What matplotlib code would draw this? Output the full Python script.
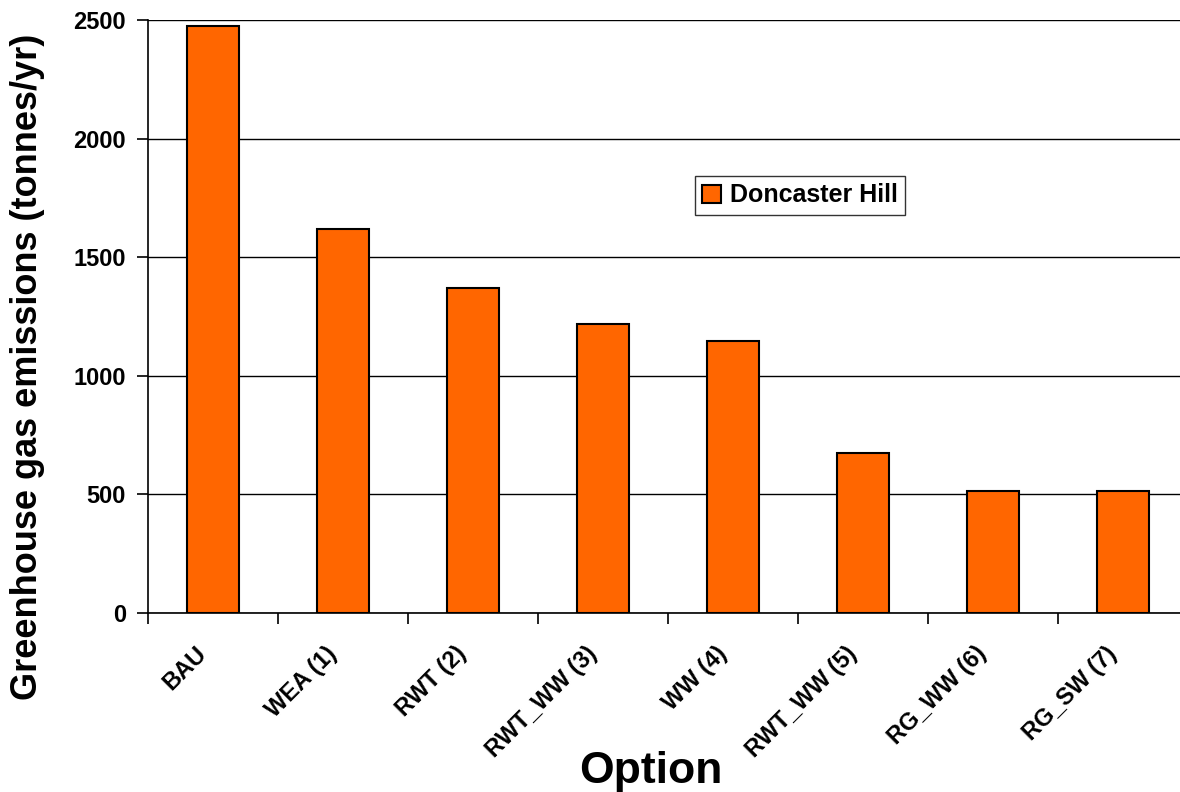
import matplotlib
matplotlib.use("Agg")
import matplotlib.pyplot as plt
import matplotlib.transforms as mtransforms
import numpy as np

# emissions per option
options = ["BAU", "WEA (1)", "RWT (2)", "RWT_WW (3)", "WW (4)",
           "RWT_WW (5)", "RG_WW (6)", "RG_SW (7)"]
emissions = [2475, 1620, 1370, 1220, 1145, 675, 515, 515]
series_name = "Doncaster Hill"

plt.rcParams['font.family'] = ['Liberation Sans', 'DejaVu Sans']
plt.rcParams['font.weight'] = 'bold'

fig = plt.figure(figsize=(11.8, 7.92), dpi=100)
ax = fig.add_axes([148 / 1180, 1 - 613 / 792, 1040 / 1180, 593 / 792])

x = np.arange(len(options))
ax.bar(x, emissions, width=0.4, color="#ff6600", edgecolor="black",
       linewidth=1.5, label=series_name, zorder=3)

ax.set_xlim(-0.5, len(options) - 0.5)
ax.set_ylim(0, 2500)
ax.set_yticks(np.arange(0, 2501, 500))
ax.yaxis.grid(True, color="black", linewidth=1)
ax.set_axisbelow(True)

# ticks on category boundaries, labels under each bar
ax.set_xticks(np.arange(-0.5, len(options), 1.0))
ax.set_xticklabels([])
ax.set_xticks(x, minor=True)
ax.set_xticklabels(options, minor=True, rotation=45, ha="right",
                   rotation_mode="anchor", fontsize=17, fontweight="bold")
ax.tick_params(axis="x", which="minor", length=0, pad=21)
ax.tick_params(axis="x", which="major", length=8, width=1.2, direction="out")
ax.tick_params(axis="y", length=8, width=1.2, labelsize=17, pad=8)
for lbl in ax.get_yticklabels():
    lbl.set_fontweight("bold")

# nudge the slanted labels a little to the left
shift = mtransforms.ScaledTranslation(-18 / 100, 0, fig.dpi_scale_trans)
for lbl in ax.xaxis.get_minorticklabels():
    lbl.set_transform(lbl.get_transform() + shift)

for side in ["top", "right"]:
    ax.spines[side].set_visible(False)
ax.spines["left"].set_linewidth(1.2)
ax.spines["bottom"].set_linewidth(1.2)

ax.set_ylabel("Greenhouse gas emissions (tonnes/yr)", fontsize=26,
              fontweight="bold", va="center", ha="center")
ax.yaxis.set_label_coords((28 - 148) / 1040, (613 - 367) / 593)
ax.set_xlabel("Option", fontsize=32, fontweight="bold", va="center", ha="center")
ax.xaxis.set_label_coords((651 - 148) / 1040, -(772 - 613) / 593)

leg = ax.legend(loc="upper left", bbox_to_anchor=((695 - 148) / 1040, (613 - 176) / 593),
                fontsize=18, frameon=True, fancybox=False, edgecolor="black",
                handlelength=0.75, handleheight=0.75, handletextpad=0.35,
                borderpad=0.3, borderaxespad=0)
leg.get_frame().set_linewidth(1)
for t in leg.get_texts():
    t.set_fontweight("bold")

fig.savefig("out.png", dpi=100)
